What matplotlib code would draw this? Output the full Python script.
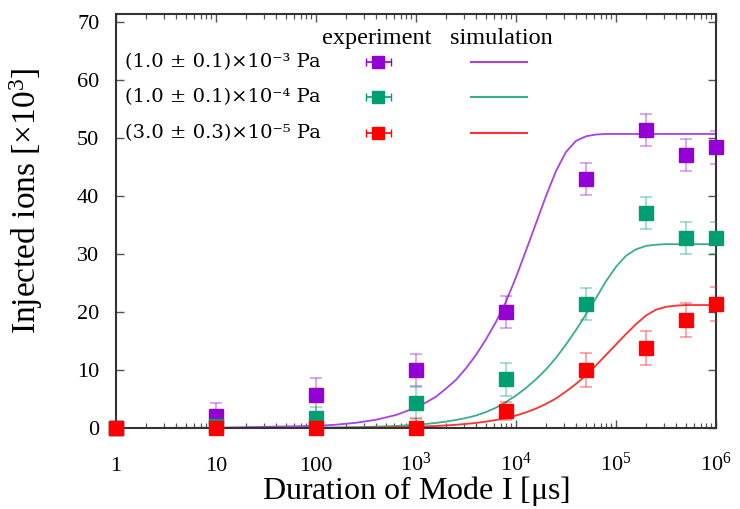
import matplotlib
matplotlib.use("Agg")
import matplotlib.pyplot as plt
from matplotlib.ticker import FixedLocator, FixedFormatter, LogLocator, NullFormatter

plt.rcParams['font.family'] = ['Liberation Serif', 'DejaVu Serif']
plt.rcParams['mathtext.fontset'] = 'custom'
plt.rcParams['mathtext.rm'] = 'Liberation Serif'
plt.rcParams['mathtext.it'] = 'Liberation Serif:italic'

# Mesures (durée en µs, ions injectés en milliers)
duree = [1, 10, 100, 1000, 8000, 50000, 200000, 500000, 1000000]
ions_1e3 = [0, 2.1, 5.7, 10.0, 20.0, 42.9, 51.4, 47.1, 48.4]
err_1e3 = [0.8, 2.2, 2.9, 2.8, 2.8, 2.8, 2.8, 2.8, 2.8]
ions_1e4 = [0, 0.3, 1.7, 4.3, 8.4, 21.4, 37.1, 32.8, 32.8]
err_1e4 = [0.8, 2.0, 1.9, 2.8, 2.8, 2.8, 2.8, 2.8, 2.8]
ions_3e5 = [0, 0, 0, 0, 2.9, 10.0, 13.8, 18.6, 21.4]
err_3e5 = [0.5, 0.5, 0.5, 1.8, 1.5, 2.9, 3.0, 2.9, 2.9]

# Courbes de simulation
t_sim_1e3 = [1, 10, 100, 158, 251, 398, 631, 1000, 1259, 1585, 1995, 2512, 3162, 3981,
             5012, 6310, 7943, 10000, 12590, 15850, 19950, 25120, 31620, 39810, 50120,
             63100, 79430, 100000, 1000000]
sim_1e3 = [0, 0.04, 0.36, 0.57, 0.9, 1.42, 2.24, 3.5, 4.4, 5.4, 6.8, 8.3, 10.3, 12.6,
           15.3, 18.3, 21.8, 26.0, 30.6, 35.3, 40.0, 44.3, 47.6, 49.5, 50.3,
           50.6, 50.7, 50.7, 50.7]
t_sim_1e4 = [1, 10, 100, 158, 251, 398, 631, 1000, 1259, 1585, 1995, 2512, 3162, 3981,
             5012, 6310, 7943, 10000, 12590, 15850, 19950, 25120, 31620, 39810, 50120,
             63100, 79430, 100000, 125900, 158500, 199500, 251200, 316200, 1000000]
sim_1e4 = [0, 0.006, 0.06, 0.09, 0.14, 0.22, 0.35, 0.56, 0.70, 0.88, 1.10, 1.38, 1.72, 2.15,
           2.75, 3.5, 4.5, 5.6, 6.9, 8.4, 10.1, 12.1, 14.4, 16.9, 19.6,
           22.4, 25.3, 27.8, 29.7, 30.8, 31.4, 31.6, 31.7, 31.7]
t_sim_3e5 = [1, 10, 100, 158, 251, 398, 631, 1000, 1259, 1585, 1995, 2512, 3162, 3981,
             5012, 6310, 7943, 10000, 12590, 15850, 19950, 25120, 31620, 39810, 50120,
             63100, 79430, 100000, 125900, 158500, 199500, 251200, 316200, 398100, 501200,
             1000000]
sim_3e5 = [0, 0.002, 0.02, 0.035, 0.056, 0.09, 0.14, 0.22, 0.28, 0.35, 0.44, 0.56, 0.70, 0.88,
           1.10, 1.38, 1.73, 2.15, 2.7, 3.35, 4.15, 5.1, 6.3, 7.6, 9.1,
           10.8, 12.6, 14.4, 16.2, 17.9, 19.4, 20.4, 20.9, 21.1, 21.2,
           21.2]

series = [
    ('(1.0 ± 0.1)×10⁻³ Pa', ions_1e3, err_1e3, t_sim_1e3, sim_1e3, '#9400d3', '#a642e6'),
    ('(1.0 ± 0.1)×10⁻⁴ Pa', ions_1e4, err_1e4, t_sim_1e4, sim_1e4, '#009e73', '#3aae88'),
    ('(3.0 ± 0.3)×10⁻⁵ Pa', ions_3e5, err_3e5, t_sim_3e5, sim_3e5, '#ff0000', '#ff3030'),
]

fig = plt.figure(figsize=(7.40, 5.09), dpi=100)
ax = fig.add_axes([116 / 740, 81 / 509, 600 / 740, 414 / 509])

for label, y, err, t_sim, y_sim, couleur, couleur_ligne in series:
    ax.plot(t_sim, y_sim, color=couleur_ligne, lw=1.3, zorder=2)
for label, y, err, t_sim, y_sim, couleur, couleur_ligne in series:
    ax.errorbar(duree, y, yerr=err, fmt='none', ecolor=couleur, alpha=0.4,
                elinewidth=1.2, capsize=4, capthick=1.2, zorder=3)
    ax.plot(duree, y, 's', color=couleur, ms=10, mec=couleur, zorder=4, clip_on=False)

ax.set_xscale('log')
ax.set_xlim(1, 1e6)
ax.set_ylim(0, 71.38)

ax.xaxis.set_major_locator(FixedLocator([1, 10, 100, 1e3, 1e4, 1e5, 1e6]))
ax.xaxis.set_major_formatter(FixedFormatter(['1', '10', '100', r'$10^3$', r'$10^4$', r'$10^5$', r'$10^6$']))
ax.xaxis.set_minor_locator(LogLocator(base=10, subs=range(2, 10), numticks=20))
ax.xaxis.set_minor_formatter(NullFormatter())
ax.set_yticks(range(0, 71, 10))

ax.tick_params(which='both', direction='in', top=True, right=True, colors='#555555',
               labelcolor='black', labelsize=16)
ax.tick_params(which='major', length=6, width=1)
ax.tick_params(which='minor', length=3.5, width=0.9)
ax.tick_params(axis='y', pad=12)
ax.tick_params(axis='x', pad=31)
# chiffres des graduations x alignés sur la ligne de base
for tick in ax.xaxis.get_major_ticks():
    tick.label1.set_verticalalignment('baseline')
for spine in ax.spines.values():
    spine.set_color('#333333')
    spine.set_linewidth(1.5)

ax.set_xlabel(r'Duration of Mode I [$\mathrm{\mu}$s]', fontsize=23)
ax.set_ylabel(r'Injected ions [$\times$10$^3$]', fontsize=24)
ax.xaxis.set_label_coords(0.5, -0.112)
ax.yaxis.set_label_coords(-0.118, 0.55)

# Légende dessinée à la main (style gnuplot)
ax.text(0.435, 0.94, 'experiment', transform=ax.transAxes, ha='center', va='center', fontsize=17.5)
ax.text(0.643, 0.94, 'simulation', transform=ax.transAxes, ha='center', va='center', fontsize=17.5)
for i, (label, y, err, t_sim, y_sim, couleur, couleur_ligne) in enumerate(series):
    fy = 0.884 - i * 0.0855
    ax.text(0.015, fy, label, transform=ax.transAxes, ha='left', va='center', fontsize=14,
            family='DejaVu Serif')
    ax.errorbar([0.437], [fy], xerr=[0.021], fmt='s', color=couleur, ms=9, ecolor=couleur,
                elinewidth=1.2, capsize=3, transform=ax.transAxes, zorder=5)
    ax.plot([0.592, 0.685], [fy, fy], color=couleur_ligne, lw=1.5, transform=ax.transAxes)

fig.savefig('out.png', dpi=100)
